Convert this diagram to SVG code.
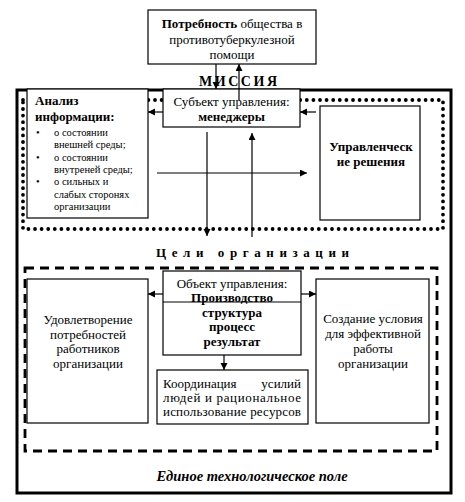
<svg xmlns="http://www.w3.org/2000/svg" width="465" height="502" viewBox="0 0 465 502">
<style>
text{font-family:"Liberation Serif","Times New Roman",serif;fill:#000}
.t{font-size:13px}
.s{font-size:10.5px}
.b{font-weight:bold}
.c{text-anchor:middle}
.box{fill:#fff;stroke:#000;stroke-width:1.2}
.ln{stroke:#000;stroke-width:1.2;fill:none;marker-end:url(#ah)}
</style>
<defs>
<marker id="ah" markerUnits="userSpaceOnUse" markerWidth="8" markerHeight="8" refX="7" refY="3.5" orient="auto">
<path d="M0,0 L7,3.5 L0,7 z" fill="#000"/>
</marker>
</defs>
<rect width="465" height="502" fill="#fff"/>
<g id="frames">
<rect x="17" y="90" width="434" height="403" fill="none" stroke="#000" stroke-width="3"/>
<rect x="23" y="100" width="420" height="129" fill="none" stroke="#000" stroke-width="3.8" stroke-linecap="round" stroke-dasharray="0 6.6"/>
<rect x="25" y="268" width="412" height="183" fill="none" stroke="#000" stroke-width="2.8" stroke-dasharray="9 6"/>
</g>
<g id="need">
<rect class="box" x="148" y="10" width="168" height="54"/>
<text class="t c" x="232" y="28"><tspan class="b">Потребность</tspan> общества в</text>
<text class="t c" x="232" y="44">противотуберкулезной</text>
<text class="t c" x="232" y="59">помощи</text>
</g>
<g id="mission">
<text class="b" x="199" y="86" font-size="14" textLength="78" lengthAdjust="spacing">МИССИЯ</text>
</g>
<g id="analysis">
<rect class="box" x="27" y="89" width="121" height="129"/>
<text class="t b" x="35" y="105">Анализ</text>
<text class="t b" x="35" y="121">информации:</text>
<text class="s" x="36" y="136">•</text>
<text class="s" x="54" y="136">о состоянии</text>
<text class="s" x="54" y="148.3">внешней среды;</text>
<text class="s" x="36" y="160.6">•</text>
<text class="s" x="54" y="160.6">о состоянии</text>
<text class="s" x="54" y="172.9">внутреней среды;</text>
<text class="s" x="36" y="185.2">•</text>
<text class="s" x="54" y="185.2">о сильных и</text>
<text class="s" x="54" y="197.5">слабых сторонях</text>
<text class="s" x="54" y="209.8">организации</text>
</g>
<g id="subject">
<rect class="box" x="163" y="89" width="137" height="38"/>
<text class="t c" x="231.5" y="105.5">Субъект управления:</text>
<text class="t c b" x="231.5" y="120.5">менеджеры</text>
</g>
<g id="decisions">
<rect class="box" x="320" y="106" width="100" height="114"/>
<text class="t c b" x="371" y="151">Управленческ</text>
<text class="t c b" x="371" y="166">ие решения</text>
</g>
<g id="goals">
<text class="b" x="156" y="257" font-size="13" textLength="193" lengthAdjust="spacing">Цели организации</text>
</g>
<g id="satisfaction">
<rect class="box" x="27" y="279" width="121" height="144"/>
<text class="t c" x="88" y="324">Удовлетворение</text>
<text class="t c" x="88" y="339">потребностей</text>
<text class="t c" x="88" y="353">работников</text>
<text class="t c" x="88" y="368">организации</text>
</g>
<g id="object">
<rect class="box" x="163" y="271" width="138" height="84"/>
<line x1="163" y1="302" x2="301" y2="302" stroke="#000" stroke-width="1.2"/>
<text class="t c" x="232" y="288">Объект управления:</text>
<text class="t c b" x="232" y="301.5">Производство</text>
<text class="t c b" x="232" y="317">структура</text>
<text class="t c b" x="232" y="331">процесс</text>
<text class="t c b" x="232" y="346">результат</text>
</g>
<g id="conditions">
<rect class="box" x="316" y="279" width="113" height="144"/>
<text class="t c" x="373" y="323">Создание условия</text>
<text class="t c" x="373" y="338">для эффективной</text>
<text class="t c" x="373" y="353">работы</text>
<text class="t c" x="373" y="368">организации</text>
</g>
<g id="coordination">
<rect class="box" x="157" y="370" width="151" height="54"/>
<text class="t" x="163" y="388">Координация</text>
<text class="t" x="301" y="388" text-anchor="end">усилий</text>
<text class="t" x="163" y="402" textLength="138" lengthAdjust="spacing">людей и рациональное</text>
<text class="t" x="163" y="416" textLength="138" lengthAdjust="spacing">использование ресурсов</text>
</g>
<g id="field">
<text class="c b" x="252" y="481" font-size="14.5" font-style="italic">Единое технологическое поле</text>
</g>
<g id="connectors">
<line class="ln" x1="216" y1="64" x2="216" y2="89"/>
<line class="ln" x1="239" y1="100" x2="239" y2="64"/>
<line class="ln" x1="163" y1="112" x2="148" y2="112"/>
<line class="ln" x1="316" y1="112" x2="300" y2="112"/>
<line class="ln" x1="157" y1="173" x2="307" y2="173"/>
<line class="ln" x1="207" y1="132" x2="207" y2="236"/>
<line class="ln" x1="252" y1="237" x2="252" y2="133"/>
<line class="ln" x1="163" y1="294" x2="148" y2="294"/>
<line class="ln" x1="301" y1="294" x2="316" y2="294"/>
<line class="ln" x1="224" y1="355" x2="224" y2="370"/>
</g>
</svg>
